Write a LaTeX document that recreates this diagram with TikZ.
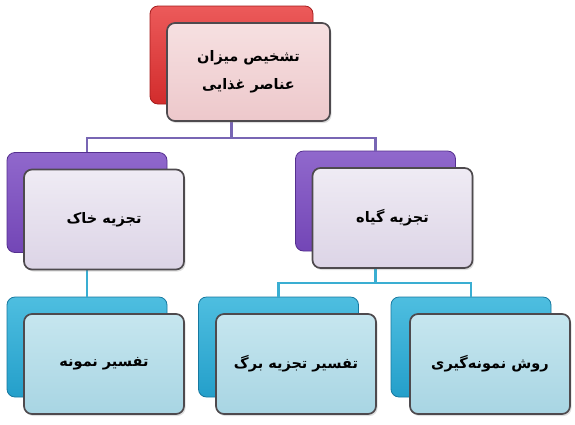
\documentclass[tikz,border=0pt]{standalone}
\usepackage{fontspec}
\newfontfamily\fa[Script=Arabic]{DejaVu Sans}
\TeXXeTstate=1
\usetikzlibrary{shadows}
\definecolor{redlt}{HTML}{EC5A5A}
\definecolor{redbase}{HTML}{D22C2C}
\definecolor{reddk}{HTML}{A51C1C}
\definecolor{pinktop}{HTML}{F6E0E1}
\definecolor{pinkbot}{HTML}{EDC8CB}
\definecolor{purlt}{HTML}{9068CC}
\definecolor{purbase}{HTML}{7346B6}
\definecolor{purdk}{HTML}{55308F}
\definecolor{lavtop}{HTML}{EFEBF4}
\definecolor{lavbot}{HTML}{DCD4E6}
\definecolor{cyanlt}{HTML}{4EBEE0}
\definecolor{cyanbase}{HTML}{249FCA}
\definecolor{cyandk}{HTML}{17789F}
\definecolor{bluetop}{HTML}{C6E6EF}
\definecolor{bluebot}{HTML}{A8D5E3}
\definecolor{framegray}{HTML}{4E4A4E}
\definecolor{linepur}{HTML}{7866B4}
\definecolor{linecyan}{HTML}{3AAED2}
\begin{document}
\begin{tikzpicture}[x=1pt,y=-1pt,
  boxbase/.style={rectangle, rounded corners=8pt, inner sep=0pt,
    minimum width=160pt, minimum height=100pt},
  backbox/.style={boxbase, line width=0.8pt},
  frontbox/.style={boxbase, draw=framegray, line width=1.7pt, align=center,
    font=\fa\bfseries\fontsize{14.5}{28}\selectfont,
    drop shadow={opacity=0.25, shadow xshift=1.5pt, shadow yshift=-2pt}},
  redback/.style={backbox, top color=redlt, bottom color=redbase, draw=reddk},
  redfront/.style={frontbox, top color=pinktop, bottom color=pinkbot},
  purback/.style={backbox, top color=purlt, bottom color=purbase, draw=purdk},
  purfront/.style={frontbox, top color=lavtop, bottom color=lavbot},
  cyanback/.style={backbox, top color=cyanlt, bottom color=cyanbase, draw=cyandk},
  cyanfront/.style={frontbox, top color=bluetop, bottom color=bluebot},
  purline/.style={draw=linepur, line width=2.4pt},
  cyanline/.style={draw=linecyan, line width=2.4pt}]
\useasboundingbox[fill=white] (0,0) rectangle (575,424);

% top group
\node[redback, minimum width=163pt, minimum height=98pt] (topB) at (231.5,55) {};
% middle back boxes
\node[purback] (soilB) at (87,202.5) {};
\node[purback] (plantB) at (375.5,201) {};
% bottom back boxes
\node[cyanback] (interpB) at (87,347) {};
\node[cyanback] (leafB) at (278.5,347) {};
\node[cyanback] (sampB) at (471,347) {};

% connector joints
\coordinate (topjoin) at (231.5,138);
\coordinate (plantjoin) at (375.5,283);

% connectors (from the front boxes down to the back boxes)
\path[purline] (topB.center |- 0,121) -- (topjoin) -| (soilB.north);
\path[purline] (topjoin) -| (plantB.north);
\path[cyanline] (soilB.center |- 0,270) -- (interpB.north);
\path[cyanline] (plantB.center |- 0,268) -- (plantjoin) -| (leafB.north);
\path[cyanline] (plantjoin) -| (sampB.north);

% front boxes
\node[redfront, minimum width=163pt, minimum height=98pt] (topF) at (248.5,72)
  {\beginR تشخیص میزان\endR\\\beginR عناصر غذایی\endR};
\node[purfront] (soilF) at (104,219.5) {\beginR تجزیه خاک\endR};
\node[purfront] (plantF) at (392.5,218) {\beginR تجزیه گیاه\endR};
\node[cyanfront] (interpF) at (104,364) {\beginR تفسیر نمونه\endR};
\node[cyanfront] (leafF) at (296,364) {\beginR تفسیر تجزیه برگ\endR};
\node[cyanfront] (sampF) at (490,364) {\beginR روش نمونه‌گیری\endR};
\end{tikzpicture}
\end{document}
